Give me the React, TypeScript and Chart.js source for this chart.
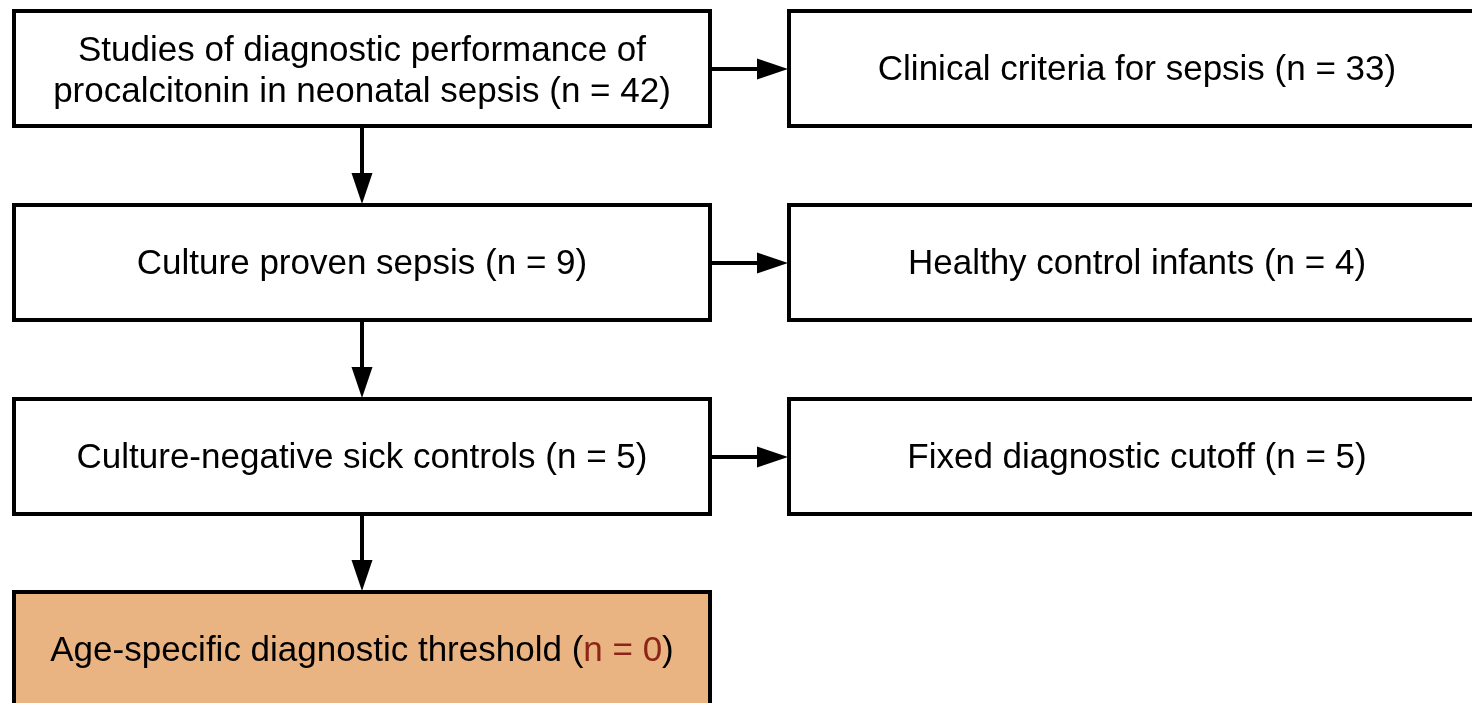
import React, { useEffect, useRef } from "react";
import { Chart, registerables } from "chart.js";

Chart.register(...registerables);

// ---- data ----
const stepLines: string[][] = [
  ["Studies of diagnostic performance of", "procalcitonin in neonatal sepsis"],
  ["Culture proven sepsis"],
  ["Culture-negative sick controls"],
  ["Age-specific diagnostic threshold"],
];
const stepCounts = [42, 9, 5, 0];
const sideLabels = [
  "Clinical criteria for sepsis",
  "Healthy control infants",
  "Fixed diagnostic cutoff",
];
const sideCounts = [33, 4, 5];
const highlightedStep = 3;

// ---- layout / style ----
const W = 1472;
const H = 703;
const L = {
  colLeft: [14, 789],
  boxW: 696,
  rowTop: [11, 205, 399, 592],
  boxH: 115,
  border: 4,
  font: '35px "Liberation Sans", Arial, Helvetica, sans-serif',
  lineGap: 41,
  headLen: 31,
  headHalf: 10.5,
};
const COLORS = {
  border: "#000000",
  fill: "#ffffff",
  highlight: "#EAB482",
  text: "#000000",
  accent: "#8B2518",
};

function drawArrow(ctx: CanvasRenderingContext2D, x1: number, y1: number, x2: number, y2: number) {
  const dx = x2 - x1;
  const dy = y2 - y1;
  const len = Math.hypot(dx, dy);
  const ux = dx / len;
  const uy = dy / len;
  const bx = x2 - ux * L.headLen;
  const by = y2 - uy * L.headLen;
  ctx.strokeStyle = COLORS.border;
  ctx.lineWidth = 4;
  ctx.beginPath();
  ctx.moveTo(x1, y1);
  ctx.lineTo(bx, by);
  ctx.stroke();
  ctx.fillStyle = COLORS.border;
  ctx.beginPath();
  ctx.moveTo(x2, y2);
  ctx.lineTo(bx - uy * L.headHalf, by + ux * L.headHalf);
  ctx.lineTo(bx + uy * L.headHalf, by - ux * L.headHalf);
  ctx.closePath();
  ctx.fill();
}

function drawBox(
  ctx: CanvasRenderingContext2D,
  x: number,
  y: number,
  lines: string[],
  count: number,
  fill: string,
  accentCount: boolean
) {
  ctx.fillStyle = fill;
  ctx.fillRect(x, y, L.boxW, L.boxH);
  ctx.strokeStyle = COLORS.border;
  ctx.lineWidth = L.border;
  ctx.lineJoin = "miter";
  ctx.strokeRect(x, y, L.boxW, L.boxH);

  ctx.font = L.font;
  ctx.textBaseline = "middle";
  ctx.textAlign = "left";
  const cx = x + L.boxW / 2;
  const n = lines.length;
  const cy = y + L.boxH / 2 + 2 + (n - 1) * 1.5;
  lines.forEach((line, i) => {
    const ly = cy + (i - (n - 1) / 2) * L.lineGap;
    const isLast = i === n - 1;
    if (!isLast) {
      const w = ctx.measureText(line).width;
      ctx.fillStyle = COLORS.text;
      ctx.fillText(line, cx - w / 2, ly);
      return;
    }
    const parts: [string, string][] = [
      [line + " (", COLORS.text],
      ["n = " + count, accentCount ? COLORS.accent : COLORS.text],
      [")", COLORS.text],
    ];
    const total = parts.reduce((s, p) => s + ctx.measureText(p[0]).width, 0);
    let px = cx - total / 2;
    parts.forEach(([t, c]) => {
      ctx.fillStyle = c;
      ctx.fillText(t, px, ly);
      px += ctx.measureText(t).width;
    });
  });
}

const flowPlugin = {
  id: "flow",
  afterDraw(chart: any) {
    const { ctx } = chart;
    const xs = chart.scales.x;
    const ys = chart.scales.y;
    const px = (v: number) => xs.getPixelForValue(v);
    const py = (v: number) => ys.getPixelForValue(v);
    ctx.save();
    stepLines.forEach((lines, i) => {
      drawBox(
        ctx,
        px(L.colLeft[0]),
        py(L.rowTop[i]),
        lines,
        stepCounts[i],
        i === highlightedStep ? COLORS.highlight : COLORS.fill,
        i === highlightedStep
      );
    });
    sideLabels.forEach((label, i) => {
      drawBox(ctx, px(L.colLeft[1]), py(L.rowTop[i]), [label], sideCounts[i], COLORS.fill, false);
    });
    const midX = px(L.colLeft[0] + L.boxW / 2);
    for (let i = 0; i < stepLines.length - 1; i++) {
      drawArrow(ctx, midX, py(L.rowTop[i] + L.boxH + L.border / 2), midX, py(L.rowTop[i + 1] - L.border / 2 + 1));
    }
    sideLabels.forEach((_, i) => {
      const yy = py(L.rowTop[i] + L.boxH / 2 + 0.5);
      drawArrow(ctx, px(L.colLeft[0] + L.boxW + L.border / 2), yy, px(L.colLeft[1] - L.border / 2 + 1), yy);
    });
    ctx.restore();
  },
};

export default function App() {
  const ref = useRef<HTMLCanvasElement | null>(null);
  useEffect(() => {
    document.body.style.margin = "0";
    const canvas = ref.current;
    if (!canvas) return;
    const chart = new Chart(canvas, {
      type: "scatter",
      data: {
        datasets: [
          {
            data: stepCounts.map((c, i) => ({ x: L.colLeft[0] + L.boxW / 2, y: L.rowTop[i] + L.boxH / 2 })),
            pointRadius: 0,
          },
        ],
      },
      options: {
        animation: false,
        responsive: false,
        devicePixelRatio: 1,
        layout: { padding: 0 },
        plugins: { legend: { display: false }, tooltip: { enabled: false } },
        events: [],
        scales: {
          x: { type: "linear", min: 0, max: W, display: false },
          y: { type: "linear", min: 0, max: H, reverse: true, display: false },
        },
      },
      plugins: [flowPlugin],
    });
    return () => chart.destroy();
  }, []);
  return (
    <div style={{ width: W, height: H, background: "#fff" }}>
      <canvas ref={ref} width={W} height={H} style={{ display: "block" }} />
    </div>
  );
}
